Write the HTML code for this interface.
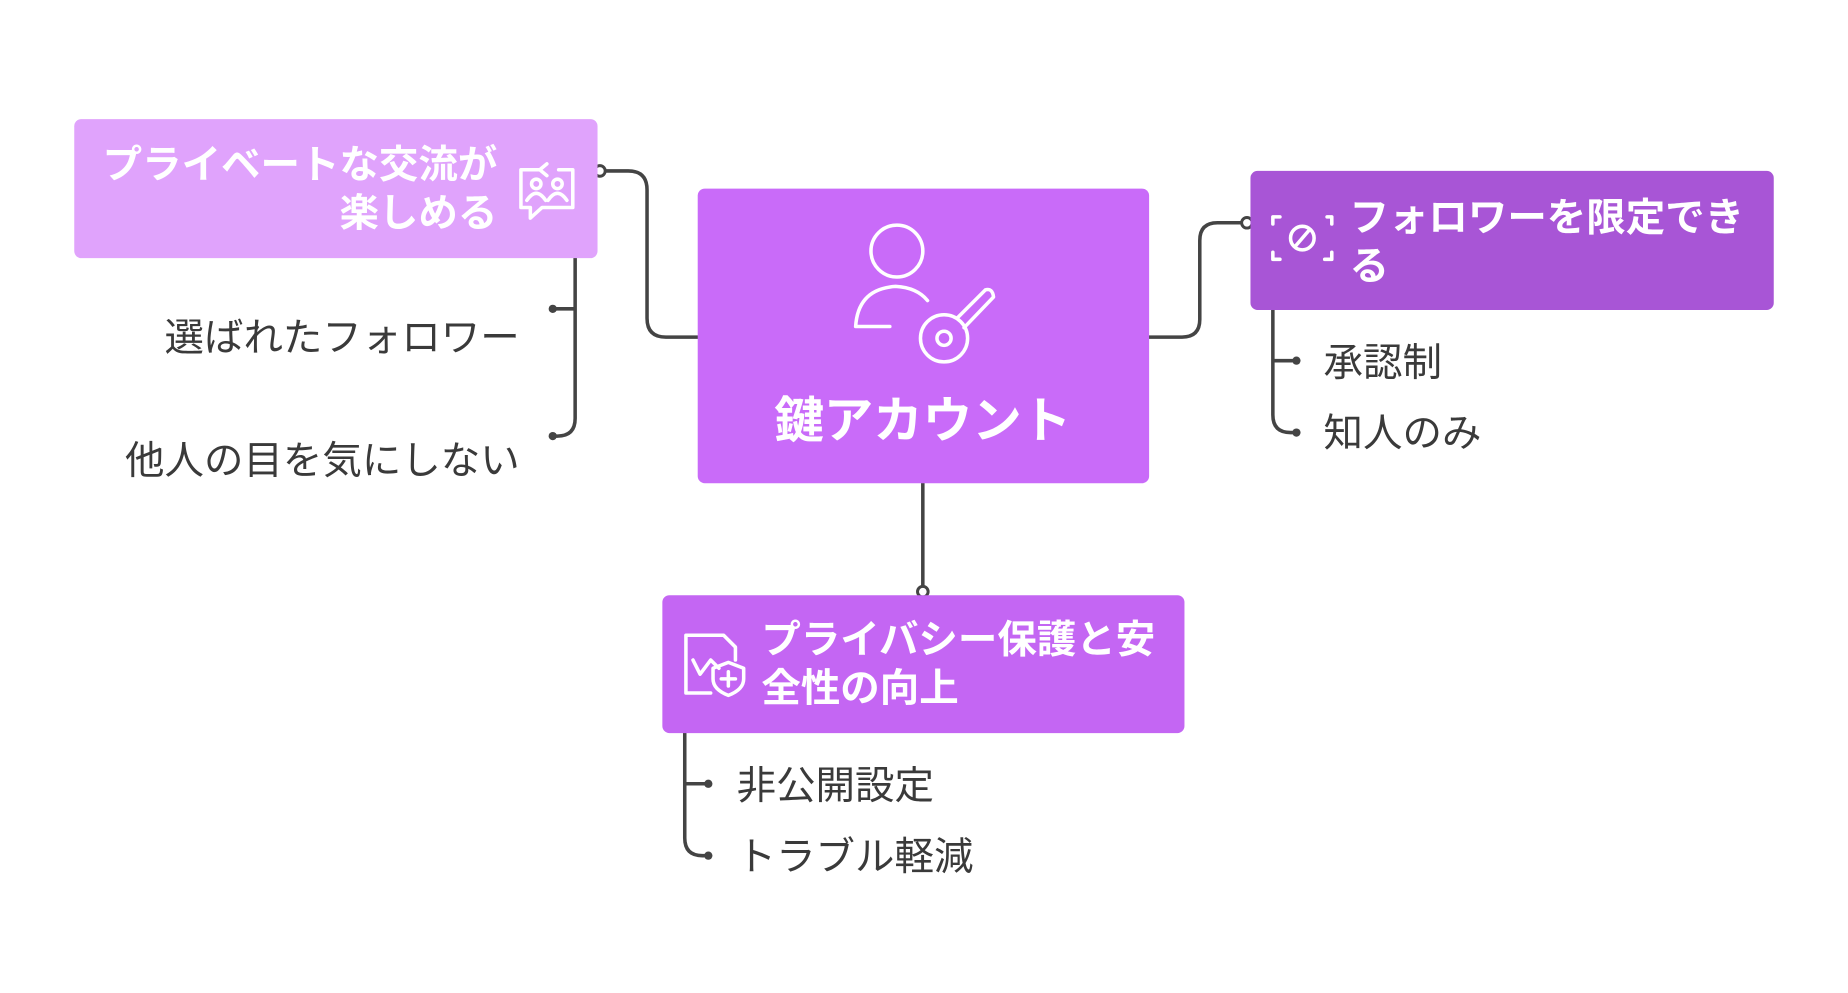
<!DOCTYPE html>
<html><head><meta charset="utf-8"><style>
html,body{margin:0;padding:0;background:#fff;}
svg{display:block}
text{font-family:"Liberation Sans","Noto Sans CJK JP",sans-serif;}
.b{font-weight:bold;fill:#fff;font-size:33.5px}
.l{fill:#3a3a3a;font-size:33.5px}
.c{fill:none;stroke:#444;stroke-width:3;stroke-linecap:round}
.w{fill:none;stroke:#fff;stroke-width:3;stroke-linecap:round;stroke-linejoin:round}
</style></head><body>
<svg width="1848" height="993" viewBox="0 0 1568 842.5" xmlns="http://www.w3.org/2000/svg">
<rect width="1568" height="843" fill="#fff"/>
<path class="c" d="M513 145 H533 Q549 145 549 161 V270 Q549 286 565 286 H592"/>
<circle cx="509" cy="145" r="4.5" fill="#fff" stroke="#444" stroke-width="2.5"/>
<path class="c" d="M975 286 H1003 Q1018 286 1018 271 V204 Q1018 189 1033 189 H1054"/>
<circle cx="1058" cy="189" r="4.5" fill="#fff" stroke="#444" stroke-width="2.5"/>
<path class="c" d="M783 410 V498"/>
<circle cx="783" cy="502" r="4.5" fill="#fff" stroke="#444" stroke-width="2.5"/>
<path class="c" d="M488 219 V355 Q488 370 473 370 H469 M488 262 H469"/>
<circle cx="469" cy="262" r="3.5" fill="#444"/><circle cx="469" cy="370" r="3.5" fill="#444"/>
<path class="c" d="M1080 263 V352 Q1080 367 1095 367 H1100 M1080 306 H1100"/>
<circle cx="1100" cy="306" r="3.5" fill="#444"/><circle cx="1100" cy="367" r="3.5" fill="#444"/>
<path class="c" d="M581 622 V711 Q581 726 596 726 H601 M581 665 H601"/>
<circle cx="601" cy="665" r="3.5" fill="#444"/><circle cx="601" cy="726" r="3.5" fill="#444"/>
<rect x="63" y="101" width="444" height="118" rx="6" fill="#e0a3fc"/>
<rect x="592" y="160" width="383" height="250" rx="6" fill="#c96bf9"/>
<rect x="1061" y="145" width="444" height="118" rx="6" fill="#a855d6"/>
<rect x="562" y="505" width="443" height="117" rx="6" fill="#c466f3"/>
<text class="b" x="422" y="151" text-anchor="end">プライベートな交流が</text>
<text class="b" x="422" y="192" text-anchor="end">楽しめる</text>
<g class="w" stroke-width="2.5">
<path d="M458 144 H442 V176 H450 V185 L460 176 H486 V144 H474"/>
<path d="M458 144 L464 139 M458 144 L464 149"/>
<circle cx="455" cy="156" r="4"/><path d="M447 170 Q455 158 463 170"/>
<circle cx="473" cy="156" r="4"/><path d="M465 170 Q473 158 481 170"/>
</g>
<g class="w" stroke-width="3">
<circle cx="761" cy="213" r="22"/>
<path d="M755 277 H726 Q728 245 760 243 Q778 244 787 255"/>
<circle cx="801" cy="287" r="20"/><circle cx="801" cy="287" r="6"/>
<path d="M812 270 L836 246 Q842 244 843 252 L818 278"/>
</g>
<text class="b" x="783" y="371" text-anchor="middle" style="font-size:42px">鍵アカウント</text>
<g class="w" stroke-width="2.5">
<path d="M1080 190 V184 H1086 M1126 184 H1130 V190 M1130 214 V220 H1124 M1086 220 H1080 V214"/>
<circle cx="1105" cy="202" r="10"/><path d="M1099 209 L1111 195"/>
</g>
<text class="b" x="1145" y="196">フォロワーを限定でき</text>
<text class="b" x="1145" y="237">る</text>
<g class="w" stroke-width="2.5">
<path d="M603 588 H582 V539 H614 L624 549 V560"/>
<path d="M588 560 L594 572 L603 560 L610 567"/>
<path d="M618 562 L631 567 V576 Q631 585 618 590 Q605 585 605 576 V567 Z"/>
<path d="M618 570 V582 M612 576 H624"/>
</g>
<text class="b" x="646" y="554">プライバシー保護と安</text>
<text class="b" x="646" y="595">全性の向上</text>
<text class="l" x="441" y="298" text-anchor="end">選ばれたフォロワー</text>
<text class="l" x="441" y="402" text-anchor="end">他人の目を気にしない</text>
<text class="l" x="1123" y="319">承認制</text>
<text class="l" x="1123" y="379">知人のみ</text>
<text class="l" x="625" y="678">非公開設定</text>
<text class="l" x="625" y="738">トラブル軽減</text>
</svg>
</body></html>
